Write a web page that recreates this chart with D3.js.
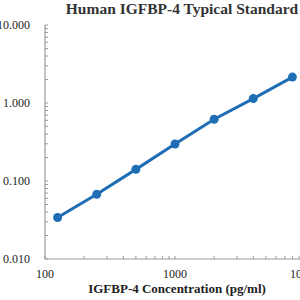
<!DOCTYPE html>
<html>
<head>
<meta charset="utf-8">
<script src="https://cdn.jsdelivr.net/npm/d3@7"></script>
<style>
  body { margin: 0; background: #fff; }
  text { font-family: "Liberation Serif", "Times New Roman", serif; }
</style>
</head>
<body>
<svg id="chart"></svg>
<script>
const concentrations = [125, 250, 500, 1000, 2000, 4000, 8000];
const odValues = [0.034, 0.0675, 0.141, 0.298, 0.62, 1.14, 2.15];
const xTickValues = [100, 1000, 10000];
const yTickValues = [0.01, 0.1, 1, 10];

const width = 300, height = 300;
const margin = { top: 25, right: -5, bottom: 41, left: 45 };

const svg = d3.select("#chart").attr("width", width).attr("height", height);

const x = d3.scaleLog().domain([100, 10000]).range([margin.left, width - margin.right]);
const y = d3.scaleLog().domain([0.01, 10]).range([height - margin.bottom, margin.top]);

const axisColor = "#9a9a9a";

// minor ticks
const xMinor = [];
const yMinor = [];
for (let d = 100; d < 10000; d *= 10) for (let k = 1; k < 10; k++) xMinor.push(d * k);
for (let d = 0.01; d < 10; d *= 10) for (let k = 1; k < 10; k++) yMinor.push(+(d * k).toPrecision(3));
xMinor.push(10000); yMinor.push(10);

// x axis
svg.append("g")
    .selectAll("line")
    .data(xMinor)
    .enter().append("line")
    .attr("x1", d => x(d)).attr("x2", d => x(d))
    .attr("y1", y(0.01)).attr("y2", y(0.01) - 3)
    .attr("stroke", axisColor);

svg.append("line")
    .attr("x1", x(100)).attr("x2", x(10000))
    .attr("y1", y(0.01)).attr("y2", y(0.01))
    .attr("stroke", axisColor).attr("stroke-width", 1.2);

svg.append("g")
    .selectAll("text")
    .data(xTickValues)
    .enter().append("text")
    .attr("x", d => x(d))
    .attr("y", y(0.01) + 19)
    .attr("text-anchor", "middle")
    .attr("font-size", "12px")
    .attr("fill", "#222")
    .text(d => d);

// y axis
svg.append("g")
    .selectAll("line")
    .data(yMinor)
    .enter().append("line")
    .attr("x1", x(100)).attr("x2", x(100) + 3)
    .attr("y1", d => y(d)).attr("y2", d => y(d))
    .attr("stroke", axisColor);

svg.append("line")
    .attr("x1", x(100)).attr("x2", x(100))
    .attr("y1", y(0.01)).attr("y2", y(10))
    .attr("stroke", axisColor).attr("stroke-width", 1.2);

svg.append("g")
    .selectAll("text")
    .data(yTickValues)
    .enter().append("text")
    .attr("x", 30)
    .attr("y", d => y(d))
    .attr("dy", "0.35em")
    .attr("text-anchor", "end")
    .attr("font-size", "12px")
    .attr("fill", "#222")
    .text(d => d3.format(".3f")(d));

// curve
const pts = concentrations.map((c, i) => [c, odValues[i]]);
const blue = "#1f6eb5";

svg.append("path")
    .datum(pts)
    .attr("fill", "none")
    .attr("stroke", blue)
    .attr("stroke-width", 3)
    .attr("d", d3.line().x(d => x(d[0])).y(d => y(d[1])));

svg.append("g")
    .selectAll("circle")
    .data(pts)
    .enter().append("circle")
    .attr("cx", d => x(d[0]))
    .attr("cy", d => y(d[1]))
    .attr("r", 4.5)
    .attr("fill", blue);

// titles
svg.append("text")
    .attr("x", 182).attr("y", 14)
    .attr("text-anchor", "middle")
    .attr("font-size", "15.5px")
    .attr("font-weight", "700")
    .attr("fill", "#333")
    .text("Human IGFBP-4 Typical Standard");

svg.append("text")
    .attr("x", 177).attr("y", 293)
    .attr("text-anchor", "middle")
    .attr("font-size", "13px")
    .attr("font-weight", "700")
    .attr("fill", "#222")
    .text("IGFBP-4 Concentration (pg/ml)");
</script>
</body>
</html>
